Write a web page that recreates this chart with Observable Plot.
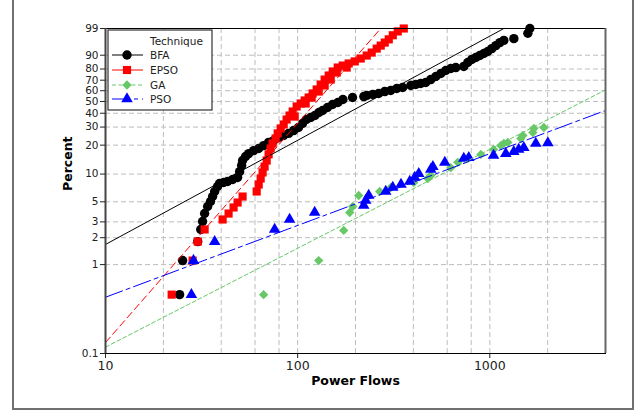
<!DOCTYPE html>
<html><head><meta charset="utf-8">
<script src="https://cdn.jsdelivr.net/npm/d3@7"></script>
<script src="https://cdn.jsdelivr.net/npm/@observablehq/plot@0.6"></script>
<style>
body{margin:0;background:#fff;}
#wrap{position:relative;width:644px;height:410px;overflow:hidden;font-family:"DejaVu Sans",sans-serif;}
#border{position:absolute;left:12px;top:-5px;width:622px;height:415px;border:2px solid #707070;box-sizing:border-box;pointer-events:none;}
</style></head><body><div id="wrap"></div>
<script>
// ---- data (Power Flows, Percent) ----
const bfaX = [24.3,25.2,30.2,31.3,32.0,32.8,34.0,35.2,36.1,37.0,38.3,39.2,41.2,43.2,45.9,48.7,49.9,51.1,51.7,53.6,55.6,59.0,62.7,66.5,70.6,75.0,79.6,84.6,89.8,95.3,101,106,111,117,123,129,135,143,152,162,172,193,221,229,246,264,284,305,328,352,388,412,437,464,493,524,556,590,627,665,732,768,806,846,887,931,976,1024,1075,1128,1183,1334,1578,1616];
const bfaP = [0.46,1.11,1.81,2.47,3.03,3.71,4.44,5.04,5.71,6.48,7.34,7.91,8.11,8.32,8.74,9.18,10.6,12.3,13.9,15.3,16.4,17.6,18.5,19.8,21.3,22.2,23.8,24.9,26.1,27.8,29.7,32.4,35.2,36.7,38.2,40.6,42.2,44.7,47.3,49.1,51.8,53.6,54.5,55.5,56.4,57.4,59.2,60.2,62.1,63.1,65.0,65.9,66.9,67.8,70.6,73.4,76.1,78.7,80.4,81.2,82.1,85.1,87.3,88.6,89.8,91.0,92.1,93.5,94.8,95.9,96.6,97.1,98.3,99.0];

const epsoX = [22.1,28.4,30.2,32.8,40.7,43.7,46.4,48.7,51.7,61.2,62.7,64.2,65.7,67.3,69.0,70.6,72.3,74.1,76.8,78.7,81.6,84.6,87.6,90.8,94.2,98.8,103.7,108.8,114.1,119.7,125.6,131.8,138.2,145.1,152.2,161.6,171.6,184.3,198.2,212.9,228.8,242.9,257.9,270.6,283.9,297.9,312.6,331.8,356.6,96.5,110.1,118.3,128.7,138.2,148.6,159.7,180.0];
const epsoP = [0.46,1.11,1.81,2.47,3.19,3.71,4.33,4.91,5.71,6.48,7.72,8.96,10.4,12.0,13.9,16.1,18.5,20.8,23.3,26.1,29.1,31.7,35.2,38.2,41.4,45.6,48.2,50.9,53.6,57.4,61.2,65.9,70.6,74.3,77.9,81.2,82.8,84.4,85.9,87.9,89.8,91.5,93.5,94.8,95.9,96.9,97.9,98.6,99.0,37.4,48.2,53.6,59.2,65.0,70.6,77.0,81.2];

const gaX = [66.5,128.7,173.7,186.6,193.4,207.8,267.4,305.1,401.9,475.5,493,626.5,681,768,898,1046,1141,1183,1241,1450,1486,1675,1695,1911];
const gaP = [0.46,1.11,2.41,3.81,4.44,5.86,6.48,7.16,8.11,8.96,9.65,11.7,13.3,14.6,16.1,18.1,19.8,20.8,21.3,23.3,24.9,26.6,29.1,29.7];

const psoX = [28.0,28.7,37.0,75.9,90.8,122.6,220.7,226,234.3,287.3,312.6,345,383.1,406.9,426.8,493.1,505.5,583,732,777,1046,1211,1333,1414,1503,1735,2005];
const psoP = [0.46,1.11,1.81,2.47,3.19,3.81,4.55,5.17,5.86,6.48,7.16,7.72,8.32,9.18,10.1,11.2,12.0,13.3,14.6,14.9,15.7,16.4,17.2,18.1,18.9,20.8,21.0];

// fitted distribution lines (end points)
const fitBFAX = [10, 1183],  fitBFAP = [1.68, 99];
const fitEPSOX = [10, 270.6], fitEPSOP = [0.133, 99];
const fitGAX = [10, 4000],   fitGAP = [0.118, 60.8];
const fitPSOX = [10, 4000],  fitPSOP = [0.43, 42.2];

const techniques = ["BFA","EPSO","GA","PSO"];
const colors = ["#000000","#ff0000","#66c866","#0000ff"];
const symbols = ["circle","square","diamond2","triangle"];
const radii = [4.7,4.6,4.2,4.3];
const dashes = [null,"7,4","4,2.5","18,4,4,4"];
const legendDashes = [null,null,"4,2.5","18,4,4,4"];

const yTicks = [0.1,1,2,3,5,10,20,30,40,50,60,70,80,90,99];
const yTickLabels = ["0.1","1","2","3","5","10","20","30","40","50","60","70","80","90","99"];
const yGrid = [1,2,3,5,10,20,30,40,50,60,70,80,90];
const xTicks = [10,100,1000];
const xTickLabels = ["10","100","1000"];
const xGrid = [20,40,60,80,100,200,400,600,800,1000,2000];

// ---- build ----
const wb = p => Math.log(-Math.log(1 - p / 100)); // Weibull probability scale
const pts = (xs, ps) => xs.map((x, i) => ({x, p: ps[i]}));
const pointSets = [pts(bfaX,bfaP), pts(epsoX,epsoP), pts(gaX,gaP), pts(psoX,psoP)];
const fitSets = [pts(fitBFAX,fitBFAP), pts(fitEPSOX,fitEPSOP), pts(fitGAX,fitGAP), pts(fitPSOX,fitPSOP)];

const yLabel = d => { let k = 0, best = Infinity; yTicks.forEach((t,i)=>{const e=Math.abs(wb(t)-d); if(e<best){best=e;k=i;}}); return yTickLabels[k]; };
const xLabel = d => { let k = 0, best = Infinity; xTicks.forEach((t,i)=>{const e=Math.abs(t-d); if(e<best){best=e;k=i;}}); return xTickLabels[k]; };

const marks = [
  Plot.gridX(xGrid, {stroke:"#bdbdbd", strokeOpacity:1, strokeWidth:1, strokeDasharray:"5,3"}),
  Plot.gridY(yGrid.map(wb), {stroke:"#bdbdbd", strokeOpacity:1, strokeWidth:1, strokeDasharray:"5,3"}),
];
pointSets.forEach((d, i) => {
  marks.push(Plot.dot(d, {x:"x", y: v => wb(v.p), symbol: symbols[i], r: radii[i], fill: colors[i], stroke: "none"}));
});
fitSets.forEach((d, i) => {
  marks.push(Plot.line(d, {x:"x", y: v => wb(v.p), stroke: colors[i], strokeWidth: 1, strokeDasharray: dashes[i] || undefined}));
});
marks.push(
  Plot.frame({stroke:"#000"}),
  Plot.ruleX([10], {stroke:"#444", strokeWidth:2}),
  Plot.ruleX([4000], {stroke:"#666", strokeWidth:2}),
  Plot.axisX(xTicks, {tickFormat: xLabel, fontSize:12.5, tickSize:5, tickPadding:3, label:null, stroke:"#222"}),
  Plot.axisY(yTicks.map(wb), {tickFormat: yLabel, fontSize:10.5, tickSize:5, tickPadding:2, label:null, stroke:"#222"}),
  Plot.text(["Power Flows"], {text: d => d, frameAnchor:"bottom", dy:31, fontWeight:"bold", fontSize:12.5, fill:"#000"}),
  Plot.text(["Percent"], {text: d => d, frameAnchor:"left", dx:-38, rotate:-90, fontWeight:"bold", fontSize:12.5, fill:"#000"})
);

const chart = Plot.plot({
  width:644, height:410,
  marginLeft:105, marginRight:39, marginTop:28, marginBottom:57,
  style:{fontFamily:"DejaVu Sans", background:"transparent", color:"#222"},
  x:{type:"log", domain:[10,4000]},
  y:{type:"linear", domain:[wb(0.1), wb(99)]},
  marks
});
const wrap = document.getElementById("wrap");
chart.style.position = "absolute"; chart.style.left = "0"; chart.style.top = "0";
wrap.appendChild(chart);

// ---- legend (inside the plot area) ----
const leg = d3.create("svg").attr("width",107).attr("height",83)
  .style("position","absolute").style("left","107px").style("top","29px")
  .style("font-family","DejaVu Sans");
leg.append("rect").attr("x",1).attr("y",1).attr("width",104).attr("height",80)
  .attr("fill","#fff").attr("stroke","#333").attr("stroke-width",1.2);
leg.append("text").attr("x",43).attr("y",16).attr("font-size",10.5).attr("fill","#222").text("Technique");
const symMap = {circle:d3.symbolCircle, square:d3.symbolSquare, diamond2:d3.symbolDiamond2, triangle:d3.symbolTriangle};
const rowY = [26,41,56,70];
techniques.forEach((t, i) => {
  const g = leg.append("g").attr("transform", `translate(0,${rowY[i]})`);
  const ln = g.append("line").attr("x1",5).attr("x2",36).attr("y1",0).attr("y2",0)
    .attr("stroke",colors[i]).attr("stroke-width",1);
  if (legendDashes[i]) ln.attr("stroke-dasharray", legendDashes[i]);
  g.append("path").attr("transform","translate(20,0)")
    .attr("d", d3.symbol(symMap[symbols[i]], Math.PI*radii[i]*radii[i])())
    .attr("fill",colors[i]);
  g.append("text").attr("x",43).attr("y",0).attr("dy","0.36em").attr("font-size",10.5).attr("fill","#222").text(t);
});
wrap.appendChild(leg.node());

const border = document.createElement("div");
border.id = "border";
wrap.appendChild(border);
</script>
</body></html>
